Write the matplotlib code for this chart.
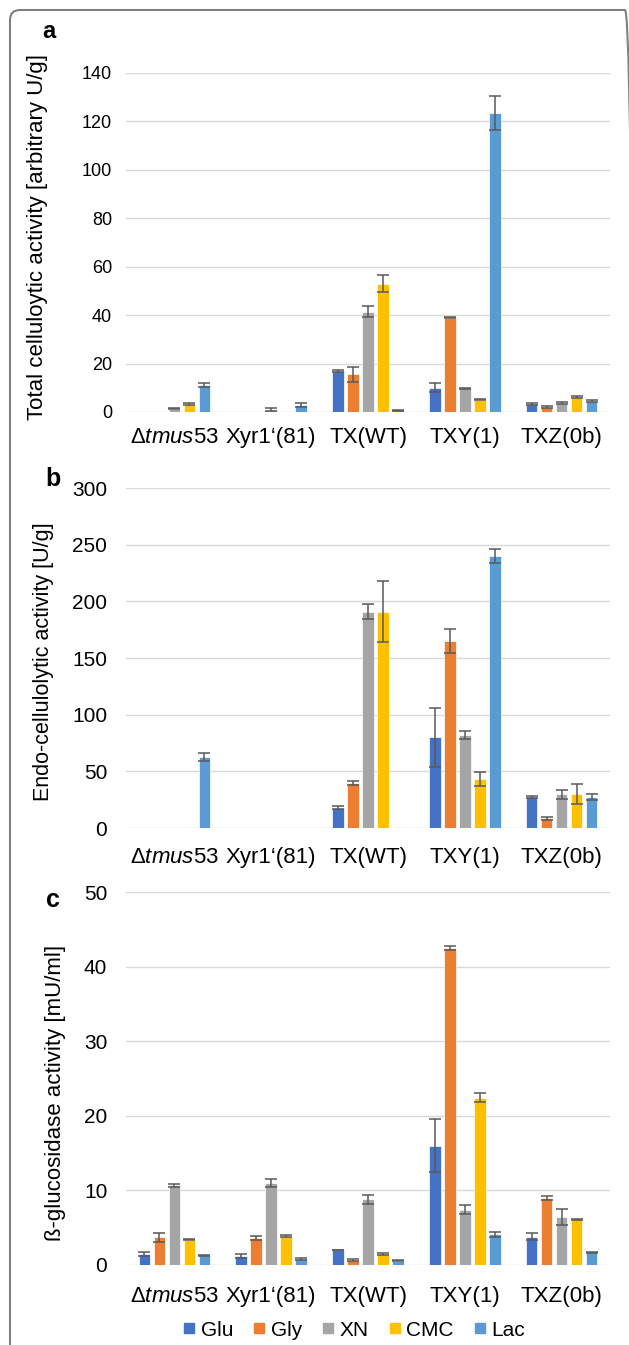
import matplotlib
matplotlib.use('Agg')
import matplotlib.pyplot as plt
import numpy as np
from matplotlib.lines import Line2D
from matplotlib.patches import FancyBboxPatch
from matplotlib.transforms import IdentityTransform

plt.rcParams['font.family'] = ['Liberation Sans', 'DejaVu Sans']
plt.rcParams['mathtext.fontset'] = 'custom'
plt.rcParams['mathtext.rm'] = 'Liberation Sans'
plt.rcParams['mathtext.it'] = 'Liberation Sans:italic'

# ---------------- data ----------------
categories = [r'Δ$\mathit{tmus53}$', 'Xyr1‘(81)', 'TX(WT)', 'TXY(1)', 'TXZ(0b)']
series = ['Glu', 'Gly', 'XN', 'CMC', 'Lac']
colors = ['#4472C4', '#ED7D31', '#A5A5A5', '#FFC000', '#5B9BD5']

# rows = categories, columns = series
total_vals = [
    [0, 0, 1.4, 3.4, 11.0],
    [0, 0, 1.0, 0, 3.0],
    [17.0, 15.6, 41.4, 52.9, 0.7],
    [10.1, 39.0, 9.9, 5.1, 123.5],
    [3.3, 2.1, 3.6, 6.2, 4.5],
]
total_errs = [
    [0, 0, 0.3, 0.5, 0.8],
    [0, 0, 0.7, 0, 0.8],
    [0.3, 3.1, 2.3, 3.5, 0.2],
    [1.9, 0.3, 0.2, 0.3, 7.0],
    [0.3, 0.3, 0.4, 0.6, 0.5],
]
endo_vals = [
    [0, 0, 0, 0, 62.5],
    [0, 0, 0, 0, 0],
    [17.9, 39.6, 191, 191, 0],
    [80, 165, 82.4, 43.4, 240],
    [27, 8.5, 29.6, 30.2, 27.3],
]
endo_errs = [
    [0, 0, 0, 0, 3.5],
    [0, 0, 0, 0, 0],
    [1.5, 2.0, 7.0, 27, 0],
    [26, 11, 3.6, 5.9, 6],
    [0.8, 1.5, 3.8, 8.8, 2.9],
]
bglu_vals = [
    [1.5, 3.7, 10.7, 3.4, 1.3],
    [1.2, 3.6, 11.0, 3.9, 0.8],
    [2.0, 0.7, 8.8, 1.5, 0.6],
    [16.0, 42.5, 7.4, 22.4, 4.1],
    [3.8, 9.0, 6.4, 6.1, 1.7],
]
bglu_errs = [
    [0.3, 0.6, 0.2, 0.1, 0.1],
    [0.3, 0.3, 0.5, 0.1, 0.1],
    [0.05, 0.1, 0.6, 0.1, 0.1],
    [3.6, 0.3, 0.6, 0.6, 0.3],
    [0.5, 0.3, 1.1, 0.1, 0.1],
]

ylabels = ['Total celluloytic activity [arbitrary U/g]',
           'Endo-cellulolytic activity [U/g]',
           'ß-glucosidase activity [mU/ml]']
panel_letters = ['a', 'b', 'c']

# ---------------- layout ----------------
W, H = 629, 1345
fig = plt.figure(figsize=(W / 100, H / 100), dpi=100)

def px_axes(left, top, right, bottom):
    return fig.add_axes([left / W, 1 - bottom / H, (right - left) / W, (bottom - top) / H])

panels = [
    dict(vals=total_vals, errs=total_errs, ymax=140, step=20, box=(126, 73, 610, 412),
         tick_fs=13, ypad=10, xpad=10.5, ylab_fs=16, ylab_xy=(38, 237),
         letter_xy=(49, 31), letter_fs=17),
    dict(vals=endo_vals, errs=endo_errs, ymax=300, step=50, box=(126, 488, 610, 828),
         tick_fs=15, ypad=13.5, xpad=13.5, ylab_fs=15.5, ylab_xy=(44, 662),
         letter_xy=(53, 479), letter_fs=18),
    dict(vals=bglu_vals, errs=bglu_errs, ymax=50, step=10, box=(126, 892, 610, 1265),
         tick_fs=15, ypad=13.5, xpad=15, ylab_fs=16, ylab_xy=(56, 1093),
         letter_xy=(53, 900), letter_fs=18),
]

bar_step = 0.155
bar_w = 0.12
x = np.arange(len(categories))

for p, ylab, letter in zip(panels, ylabels, panel_letters):
    ax = px_axes(*p['box'])
    vals = np.array(p['vals'], dtype=float)
    errs = np.array(p['errs'], dtype=float)
    for j, (s, c) in enumerate(zip(series, colors)):
        xs = x + (j - 2) * bar_step
        ax.bar(xs, vals[:, j], width=bar_w, color=c, edgecolor='white',
               linewidth=0.5, zorder=2)
        mask = (vals[:, j] > 0) | (errs[:, j] > 0)
        ax.errorbar(xs[mask], vals[mask, j], yerr=errs[mask, j], fmt='none',
                    ecolor='#595959', elinewidth=1.1, capsize=4, capthick=1.1, zorder=3)
    ax.set_xlim(-0.5, len(categories) - 0.5)
    ax.set_ylim(0, p['ymax'])
    ax.set_yticks(np.arange(0, p['ymax'] + 1, p['step']))
    ax.set_xticks(x)
    ax.set_xticklabels(categories, fontsize=16)
    ax.tick_params(axis='y', length=0, pad=p['ypad'], labelsize=p['tick_fs'])
    ax.tick_params(axis='x', length=0, pad=p['xpad'])
    for sp in ax.spines.values():
        sp.set_visible(False)
    ax.yaxis.grid(True, color='#D9D9D9', linewidth=1.0)
    ax.set_axisbelow(True)
    fig.text(p['ylab_xy'][0] / W, 1 - p['ylab_xy'][1] / H, ylab, rotation=90,
             ha='center', va='center', fontsize=p['ylab_fs'])
    fig.text(p['letter_xy'][0] / W, 1 - p['letter_xy'][1] / H, letter,
             fontweight='bold', ha='center', va='center', fontsize=p['letter_fs'])

handles = [Line2D([], [], marker='s', linestyle='none', markersize=6.5,
                  markerfacecolor=c, markeredgecolor=c) for c in colors]
fig.legend(handles, series, loc='center', bbox_to_anchor=(354 / W, 1 - 1330 / H),
           ncol=5, frameon=False, fontsize=15, handlelength=0.6,
           handletextpad=0.25, columnspacing=0.95, borderaxespad=0, borderpad=0)

border = FancyBboxPatch((10, -30), 625, H - 10 + 30,
                        boxstyle='round,pad=0,rounding_size=10',
                        transform=IdentityTransform(), facecolor='none',
                        edgecolor='#808080', linewidth=1.5, clip_on=False)
fig.patches.append(border)

fig.savefig('out.png', dpi=100)
